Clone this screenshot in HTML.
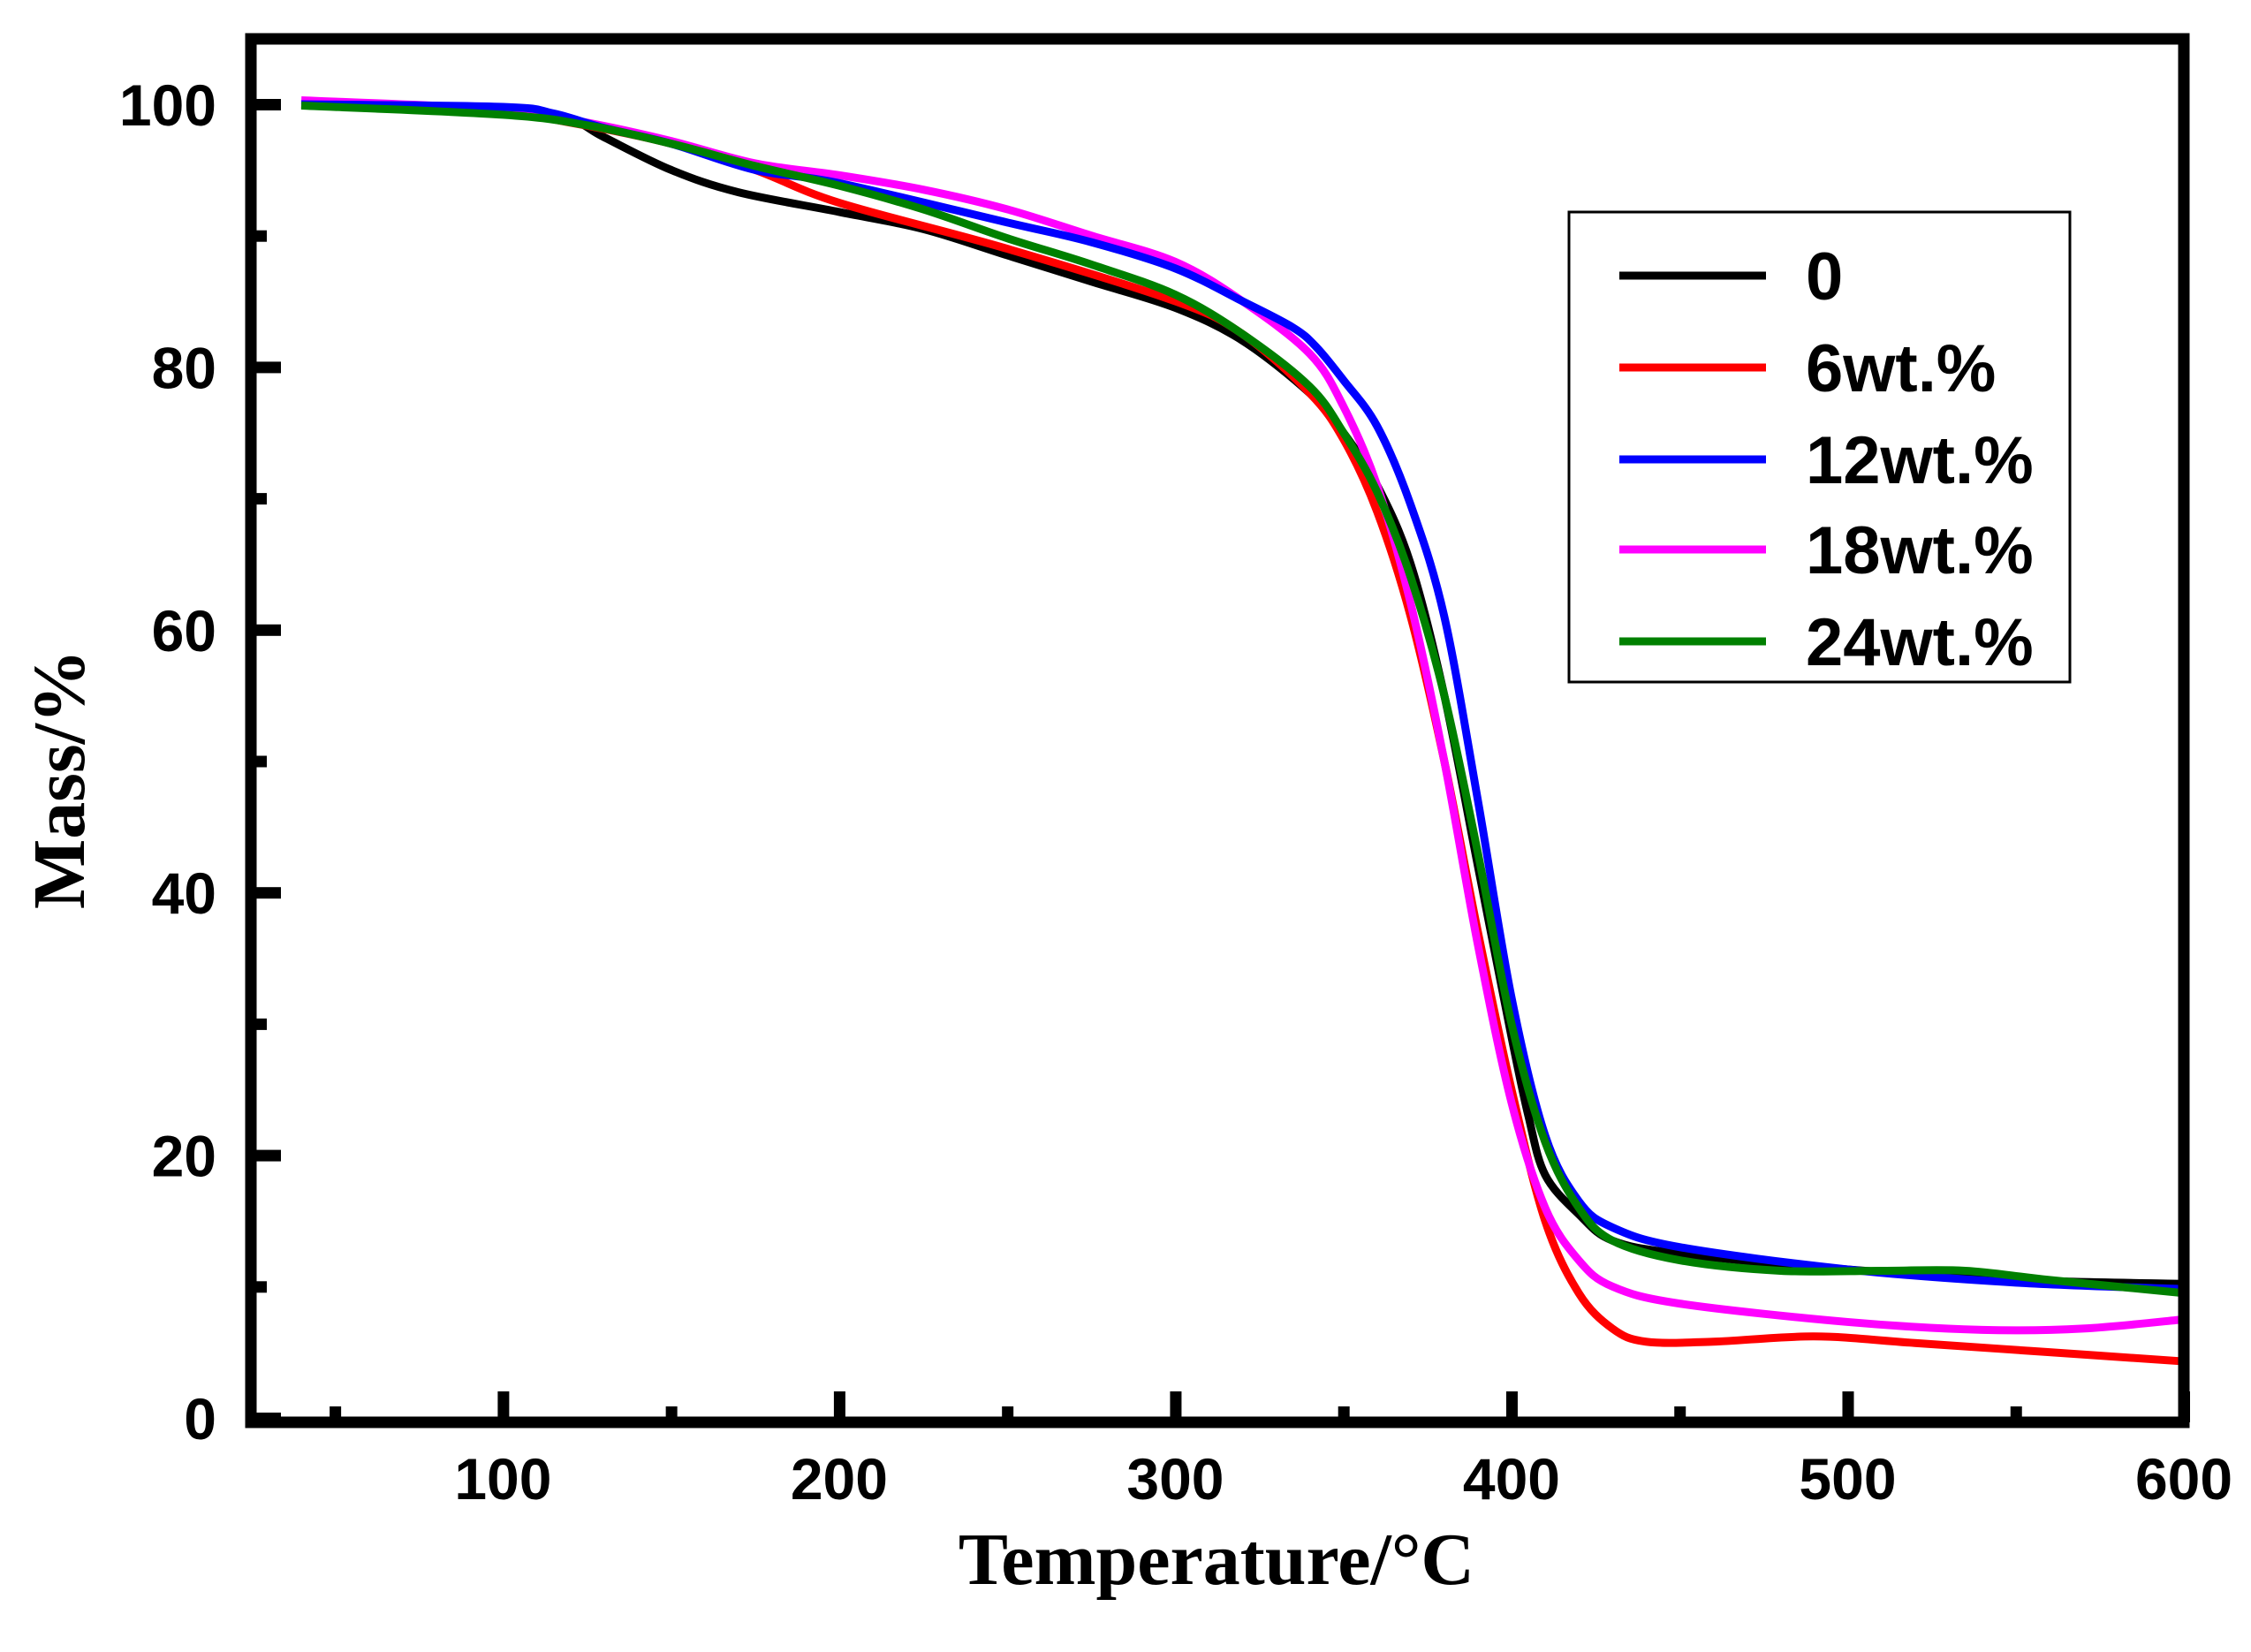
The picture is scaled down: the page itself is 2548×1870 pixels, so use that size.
<!DOCTYPE html>
<html><head><meta charset="utf-8"><style>
html,body{margin:0;padding:0;background:#fff;}
svg{display:block;}
</style></head><body>
<svg id="chart" width="2548" height="1870" viewBox="0 0 2548 1870" xmlns="http://www.w3.org/2000/svg">
<g id="plot"></g>
<g id="axes"></g>
<text x="1377" y="1793" font-family="'Liberation Serif',serif" font-weight="bold" font-size="84" text-anchor="middle">Temperature/°C</text>
<text transform="translate(95,882) rotate(-90)" font-family="'Liberation Serif',serif" font-weight="bold" font-size="84" text-anchor="middle">Mass/%</text>
<g id="legend">
<rect x="1776" y="240" width="567" height="532" fill="#fff" stroke="#000" stroke-width="3"/>
</g>
</svg>
<script>
const seriesNames = ["0","6wt.%","12wt.%","18wt.%","24wt.%"];
const seriesColors = ["#000000","#ff0000","#0000ff","#ff00ff","#008000"];
const temp0 = [40,100,120,130,150,170,200,225,250,275,300,320,340,350,360,370,380,390,400,405,410,420,430,450,500,550,600];
const mass0 = [100,99.5,98.8,97.5,95,93.3,91.8,90.5,88.5,86.5,84.5,82,78,75,71,65,55,42,29,23,18.5,15.5,13.5,12.5,11.3,10.5,10.2];
const temp6 = [40,100,120,150,175,200,250,300,320,340,350,360,370,380,390,400,410,420,430,440,460,490,520,560,600];
const mass6 = [100,99.3,98.6,97,95,92.5,89,85,82.5,78,74.5,69,61,50,37,25,15,9.5,6.8,5.8,5.8,6.2,5.7,5,4.3];
const temp12 = [40,100,115,130,150,175,200,250,275,300,320,335,342,350,360,370,380,390,400,410,420,430,450,500,550,600];
const mass12 = [100,99.8,99.3,98.2,97,95,94,91,89.5,87.5,85,83,81.5,79,75.5,69.5,61,47,32,21.5,16.5,14.5,13,11.3,10.3,9.8];
const temp18 = [40,100,125,150,175,200,225,250,275,300,320,340,350,360,370,380,390,400,410,420,430,450,500,540,570,600];
const mass18 = [100.3,99.6,98.6,97.2,95.5,94.6,93.5,92,90,88,85,81,77,71,62,50,36,24,16,12,10,8.7,7.3,6.7,6.8,7.5];
const temp24 = [40,100,125,150,175,200,225,250,275,300,320,340,350,360,370,380,390,400,410,420,430,450,480,510,535,560,600];
const mass24 = [99.9,99.2,98.4,97,95.3,93.8,92,89.8,87.8,85.5,82.5,78.5,75,70.5,64,55,43,30,21,16,13.5,12,11.2,11.2,11.2,10.5,9.5];
const xTicks = [100,200,300,400,500,600];
const xMinor = [50,150,250,350,450,550];
const yTicks = [0,20,40,60,80,100];
const yMinor = [10,30,50,70,90];

const NS="http://www.w3.org/2000/svg";
const X0=284,X1=2472,Y0=1605,Y100=118;
const xS=v=>X0+(v-25)/(600-25)*(X1-X0);
const yS=v=>Y0-(v/100)*(Y0-Y100);
function mk(tag,attrs,parent){const e=document.createElementNS(NS,tag);for(const k in attrs)e.setAttribute(k,attrs[k]);parent.appendChild(e);return e;}
function smooth(xs,ys){
  const p=xs.map((x,i)=>[xS(x),yS(ys[i])]);
  let d="M"+p[0][0]+","+p[0][1];
  for(let i=0;i<p.length-1;i++){
    const a=p[Math.max(0,i-1)],b=p[i],c=p[i+1],e=p[Math.min(p.length-1,i+2)];
    const c1=[b[0]+(c[0]-a[0])/6,b[1]+(c[1]-a[1])/6],c2=[c[0]-(e[0]-b[0])/6,c[1]-(e[1]-b[1])/6];
    d+=" C"+c1[0]+","+c1[1]+" "+c2[0]+","+c2[1]+" "+c[0]+","+c[1];
  }
  return d;
}
const plot=document.getElementById("plot");
const temps=[temp0,temp6,temp12,temp18,temp24],masses=[mass0,mass6,mass12,mass18,mass24];
const order=[0,1,3,2,4];
order.forEach(i=>{
  const p=mk("path",{d:smooth(temps[i],masses[i]),fill:"none",stroke:seriesColors[i],"stroke-width":9,"stroke-linejoin":"round"},plot);
  
  
});
const axes=document.getElementById("axes");
const frame=mk("rect",{x:X0,y:44,width:X1-X0,height:1610-44,fill:"none",stroke:"#000","stroke-width":13},axes);


const font="'Liberation Sans',Arial,sans-serif";
xTicks.forEach(v=>{
  const t=mk("rect",{x:xS(v)-6,y:1575,width:13,height:35,fill:"#000"},axes);
  
  
  const l=mk("text",{x:xS(v),y:1697,"font-family":font,"font-weight":"bold","font-size":66,"text-anchor":"middle"},axes);
  l.textContent=v;
  
  
});
xMinor.forEach(v=>{
  const t=mk("rect",{x:xS(v)-6,y:1592,width:13,height:18,fill:"#000"},axes);
  
  
});
yTicks.forEach(v=>{
  const t=mk("rect",{x:284,y:yS(v)-6,width:34,height:13,fill:"#000"},axes);
  
  
  const l=mk("text",{x:245,y:yS(v)+24,"font-family":font,"font-weight":"bold","font-size":66,"text-anchor":"end"},axes);
  l.textContent=v;
  
  
});
yMinor.forEach(v=>{
  const t=mk("rect",{x:284,y:yS(v)-6,width:18,height:13,fill:"#000"},axes);
  
  
});
const leg=document.getElementById("legend");
const rows=[312,416,520,622,726];
seriesNames.forEach((n,i)=>{
  const ln=mk("line",{x1:1833,x2:1999,y1:rows[i],y2:rows[i],stroke:seriesColors[i],"stroke-width":9},leg);
  
  
  const t=mk("text",{x:2044,y:rows[i]+27,"font-family":font,"font-weight":"bold","font-size":76},leg);
  t.textContent=n;
  
  
});
</script>
</body></html>
